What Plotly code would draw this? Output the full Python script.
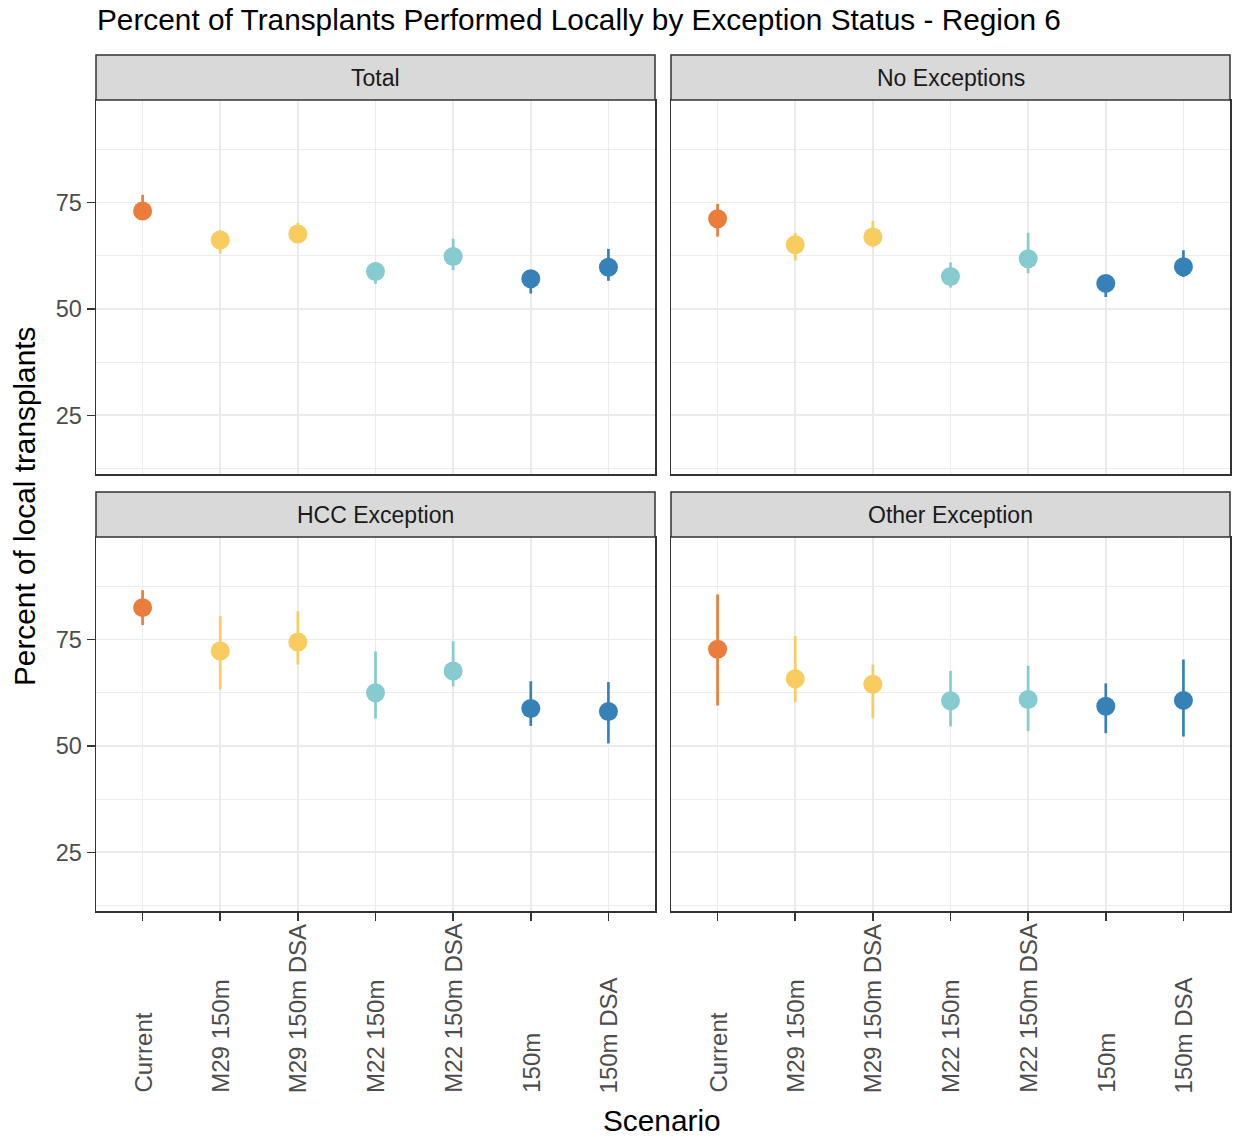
import plotly.graph_objects as go

scenarios = ["Current", "M29 150m", "M29 150m DSA", "M22 150m", "M22 150m DSA", "150m", "150m DSA"]
panel_titles = ["Total", "No Exceptions", "HCC Exception", "Other Exception"]

total_est = [73.0, 66.2, 67.6, 58.8, 62.3, 57.1, 59.8]
total_lo = [71.0, 63.0, 65.5, 55.9, 59.1, 53.6, 56.6]
total_hi = [76.8, 68.5, 70.2, 61.0, 66.5, 59.0, 64.1]

noexc_est = [71.2, 65.1, 66.9, 57.6, 61.8, 56.0, 59.9]
noexc_lo = [67.0, 61.4, 64.5, 55.0, 58.4, 52.8, 57.5]
noexc_hi = [74.7, 67.9, 70.7, 60.9, 67.9, 58.0, 63.8]

hcc_est = [82.5, 72.3, 74.4, 62.5, 67.6, 58.8, 58.1]
hcc_lo = [78.4, 63.3, 69.1, 56.4, 64.0, 54.7, 50.6]
hcc_hi = [86.6, 80.5, 81.7, 72.2, 74.6, 65.2, 65.0]

other_est = [72.7, 65.8, 64.5, 60.6, 60.9, 59.3, 60.7]
other_lo = [59.5, 60.3, 56.5, 54.6, 53.5, 53.0, 52.2]
other_hi = [85.6, 75.8, 69.1, 67.6, 68.8, 64.7, 70.3]

y_ticks = [25, 50, 75]
y_minor = [12.5, 37.5, 62.5, 87.5]

colors = ["#EB7D3C", "#F8CC5F", "#F8CC5F", "#86CBCF", "#86CBCF", "#3682B8", "#3682B8"]

panel_data = [
    (total_est, total_lo, total_hi),
    (noexc_est, noexc_lo, noexc_hi),
    (hcc_est, hcc_lo, hcc_hi),
    (other_est, other_lo, other_hi),
]

W, H = 1235, 1139
FONT = "Liberation Sans, Arial, sans-serif"


def fx(px):
    return px / W


def fy(py):
    return 1 - py / H


# panel boxes in reference px: left, right, top, bottom
boxes = [(96, 655, 100, 474), (671, 1230, 100, 474), (96, 655, 537, 911), (671, 1230, 537, 911)]
strip_h = 45

fig = go.Figure()
layout = dict(
    width=W, height=H,
    margin=dict(l=0, r=0, t=0, b=0),
    paper_bgcolor="white", plot_bgcolor="white",
    showlegend=False,
    font=dict(family=FONT),
)
shapes = []
annotations = []

for i, (est, lo, hi) in enumerate(panel_data):
    n = i + 1
    xa = "x" if n == 1 else f"x{n}"
    ya = "y" if n == 1 else f"y{n}"
    xkey = "xaxis" if n == 1 else f"xaxis{n}"
    ykey = "yaxis" if n == 1 else f"yaxis{n}"
    l, r, t, b = boxes[i]
    bottom_row = i >= 2
    left_col = i % 2 == 0
    for j, s in enumerate(scenarios):
        fig.add_trace(go.Scatter(
            x=[s], y=[est[j]], xaxis=xa, yaxis=ya, mode="markers",
            marker=dict(size=19, color=colors[j], line=dict(width=0)),
            error_y=dict(type="data", symmetric=False,
                         array=[hi[j] - est[j]], arrayminus=[est[j] - lo[j]],
                         width=0, thickness=2.7, color=colors[j]),
            hoverinfo="skip",
        ))
    layout[xkey] = dict(
        domain=[fx(l), fx(r)], anchor=ya, type="category",
        categoryorder="array", categoryarray=scenarios,
        range=[-0.6, len(scenarios) - 0.4],
        showgrid=True, gridcolor="#EBEBEB", gridwidth=1.6,
        showline=True, linecolor="#333333", linewidth=1.5, mirror=True,
        zeroline=False,
        ticks="outside" if bottom_row else "", ticklen=8, tickwidth=1.5, tickcolor="#333333",
        showticklabels=False,
    )
    layout[ykey] = dict(
        domain=[fy(b), fy(t)], anchor=xa,
        range=[11.2, 99.1],
        tickvals=y_ticks, ticktext=[str(v) for v in y_ticks],
        showgrid=True, gridcolor="#EBEBEB", gridwidth=1.6,
        minor=dict(tickvals=y_minor, showgrid=True, gridcolor="#EBEBEB", gridwidth=0.9, ticks=""),
        showline=True, linecolor="#333333", linewidth=1.5, mirror=True,
        zeroline=False,
        ticks="outside" if left_col else "", ticklen=8, tickwidth=1.5, tickcolor="#333333",
        showticklabels=left_col,
        tickfont=dict(family=FONT, size=23.5, color="#4D4D4D"),
    )
    # x tick labels: rotated, starting at a common baseline below the axis
    if bottom_row:
        for s in scenarios:
            annotations.append(dict(text=s, xref=xa, yref="paper", x=s, y=fy(1094),
                                    xanchor="center", yanchor="bottom", textangle=-90,
                                    showarrow=False, borderpad=0,
                                    font=dict(family=FONT, size=24, color="#4D4D4D")))
    # strip
    shapes.append(dict(type="rect", xref="paper", yref="paper",
                       x0=fx(l), x1=fx(r), y0=fy(t), y1=fy(t - strip_h),
                       fillcolor="#D9D9D9", line=dict(color="#333333", width=1.5), layer="above"))
    annotations.append(dict(text=panel_titles[i], xref="paper", yref="paper",
                            x=fx((l + r) / 2), y=fy(t - strip_h / 2),
                            xanchor="center", yanchor="middle", showarrow=False,
                            font=dict(family=FONT, size=23, color="#1A1A1A")))

annotations.append(dict(text="Percent of Transplants Performed Locally by Exception Status - Region 6",
                        xref="paper", yref="paper", x=fx(95), y=fy(20),
                        xanchor="left", yanchor="middle", showarrow=False,
                        font=dict(family=FONT, size=29.8, color="black")))
annotations.append(dict(text="Scenario", xref="paper", yref="paper", x=fx(662), y=fy(1120),
                        xanchor="center", yanchor="middle", showarrow=False,
                        font=dict(family=FONT, size=29.8, color="black")))
annotations.append(dict(text="Percent of local transplants", xref="paper", yref="paper",
                        x=fx(25), y=fy(507), textangle=-90,
                        xanchor="center", yanchor="middle", showarrow=False,
                        font=dict(family=FONT, size=29.8, color="black")))

layout["shapes"] = shapes
layout["annotations"] = annotations
fig.update_layout(**layout)
fig.write_html(
    "out.html",
    config={"displayModeBar": False, "staticPlot": True},
    post_script="document.body.style.margin='0';document.body.style.overflow='hidden';",
)
